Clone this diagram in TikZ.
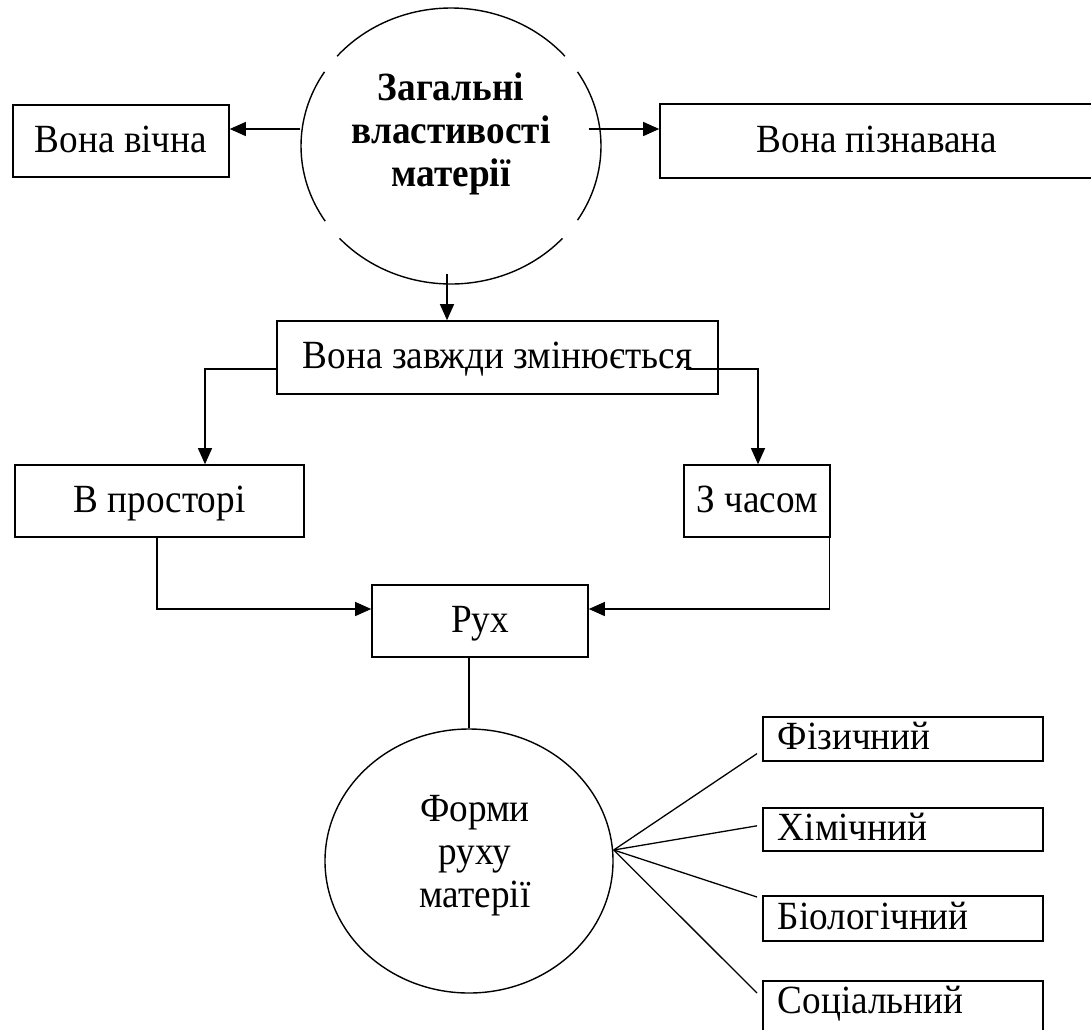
\documentclass[tikz,border=0pt]{standalone}
\usepackage{fontspec}
\setmainfont[FakeStretch=0.93]{Liberation Serif}
\usetikzlibrary{shapes.geometric,arrows.meta}
\begin{document}
\begin{tikzpicture}[x=1pt,y=-1pt,
  every node/.style={font=\fontsize{40}{43}\selectfont, inner sep=0pt},
  box/.style={draw, line width=1.6pt, rectangle, align=center, text height=22pt, text depth=0pt},
  lbox/.style={draw, line width=1.6pt, rectangle, anchor=north west, inner xsep=15pt, inner ysep=0pt,
               align=left, text width=250pt, text height=22pt, text depth=0pt},
  oval/.style={ellipse, line width=1.4pt},
  conn/.style={line width=1.3pt},
  arr/.style={conn, -{Triangle[length=16pt,width=14pt]}},
  txt/.style={align=center}
]
\useasboundingbox (0,0) rectangle (1091,1029);
\clip (0,0) rectangle (1091,1029);

% top ellipse (drawn as four arcs with gaps)
\node[oval, minimum width=300pt, minimum height=276pt] (gen) at (451,146) {};
\node[txt, font=\fontsize{40}{43}\selectfont\bfseries] (gentxt) at (451,134) {Загальні\\властивості\\матерії};
\draw[line width=1.4pt] (gen.center) ++(220.6:150 and 138) arc[start angle=220.6, end angle=319.4, x radius=150, y radius=138];
\draw[line width=1.4pt] (gen.center) ++(-32.5:150 and 138) arc[start angle=-32.5, end angle=32.5, x radius=150, y radius=138];
\draw[line width=1.4pt] (gen.center) ++(42:150 and 138) arc[start angle=42, end angle=138, x radius=150, y radius=138];
\draw[line width=1.4pt] (gen.center) ++(147:150 and 138) arc[start angle=147, end angle=212.5, x radius=150, y radius=138];

% boxes
\node[box, minimum width=216pt, minimum height=72pt] (vich) at (121,141) {Вона вічна};
\node[box, minimum width=434pt, minimum height=74pt] (pizn) at (877,141) {Вона пізнавана};
\node[box, minimum width=441pt, minimum height=73pt] (zv) at (497.5,357.5) {Вона завжди змінюється};
\node[box, minimum width=289pt, minimum height=72pt] (bp) at (159.5,501) {В просторі};
\node[box, minimum width=146pt, minimum height=72pt] (zc) at (757,501) {З часом};
\node[box, minimum width=216pt, minimum height=72pt] (rux) at (480,621) {Рух};

% bottom ellipse
\node[oval, draw, minimum width=288pt, minimum height=264pt] (forms) at (469,861) {};
\node[txt] (formstxt) at (475,856) {Форми\\руху\\матерії};

% right boxes
\node[lbox, minimum height=44pt] (fiz) at (762,716) {Фізичний};
\node[lbox, minimum height=43pt] (him) at (762,807) {Хімічний};
\node[lbox, minimum height=45pt] (bio) at (762,895) {Біологічний};
\node[lbox, minimum height=60pt, text depth=16pt] (soc) at (762,980) {Соціальний};

% connectors
\draw[arr] ([yshift=17pt]gen.west) -- ([yshift=17pt]gen.west -| vich.east);
\draw[arr] ([xshift=-13pt,yshift=17pt]gen.east) -- ([yshift=17pt]gen.east -| pizn.west);
\draw[arr] ([xshift=-4pt,yshift=11pt]gen.south) -- ([xshift=-4pt]gen.south |- zv.north);

\draw[arr] ([yshift=-11.5pt]zv.west) -| ([xshift=45.5pt]bp.north);
\draw[arr] ([xshift=-33pt,yshift=-11.5pt]zv.east) -| ([xshift=1pt]zc.north);

\draw[arr] ([xshift=-2.5pt]bp.south) |- ([yshift=12pt]rux.west);
\draw[arr] ([xshift=-1pt]zc.south east) |- ([yshift=12pt]rux.east);

\draw[conn] (forms.north |- rux.south) -- (forms.north);

\coordinate (hub) at ([yshift=11pt]forms.east);
\draw[conn] (hub) -- ([xshift=-5pt,yshift=8pt]fiz.south west);
\draw[conn] (hub) -- ([xshift=-5pt,yshift=3.5pt]him.west);
\draw[conn] (hub) -- ([xshift=-5pt,yshift=-2pt]bio.north west);
\draw[conn] (hub) -- ([xshift=-5pt,yshift=-13pt]soc.north west);
\end{tikzpicture}
\end{document}
